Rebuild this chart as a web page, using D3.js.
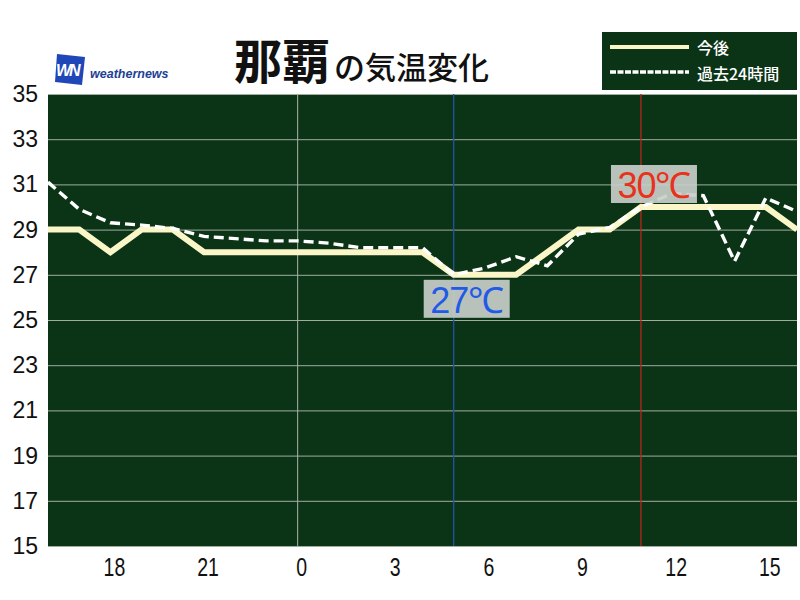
<!DOCTYPE html>
<html>
<head>
<meta charset="utf-8">
<script src="https://cdn.jsdelivr.net/npm/d3@7"></script>
<style>
  body { margin: 0; background: #fff; }
  svg { display: block; }
</style>
</head>
<body>
<div id="chart"></div>
<script>
// hours since 0:00 of the first day (16 = 16:00, 24 = 0:00, 40 = 16:00 next day)
const hours = [16, 17, 18, 19, 20, 21, 22, 23, 24, 25, 26, 27, 28, 29, 30, 31, 32, 33, 34, 35, 36, 37, 38, 39, 40];
const forecast = [29, 29, 28, 29, 29, 28, 28, 28, 28, 28, 28, 28, 28, 27, 27, 27, 28, 29, 29, 30, 30, 30, 30, 30, 29];
const past24 = [31.1, 29.9, 29.3, 29.2, 29.05, 28.7, 28.6, 28.5, 28.5, 28.4, 28.2, 28.2, 28.2, 27.0, 27.3, 27.8, 27.4, 28.8, 29.1, 30.0, 30.6, 30.5, 27.6, 30.4, 29.8];
const xTicks = [18, 21, 24, 27, 30, 33, 36, 39];
const yTicks = [15, 17, 19, 21, 23, 25, 27, 29, 31, 33, 35];
const minHour = 29, minTemp = 27;
const maxHour = 35, maxTemp = 30;

const width = 800, height = 600;
const margin = { top: 94, right: 3, bottom: 54, left: 48 };

const svg = d3.select('#chart')
  .append('svg')
  .attr('width', width)
  .attr('height', height);

const x = d3.scaleLinear().domain([16, 40]).range([margin.left, width - margin.right]);
const y = d3.scaleLinear().domain([15, 35]).range([height - margin.bottom, margin.top]);

// plot background
svg.append('rect')
  .attr('x', x(16)).attr('y', y(35))
  .attr('width', x(40) - x(16)).attr('height', y(15) - y(35))
  .attr('fill', '#0b3316');

// horizontal grid
svg.append('g')
  .attr('transform', 'translate(' + margin.left + ',0)')
  .call(d3.axisLeft(y).tickValues(yTicks).tickSize(-(x(40) - x(16))).tickFormat(''))
  .call(g => g.select('.domain').remove())
  .call(g => g.selectAll('line').attr('stroke', '#9fae9f').attr('stroke-width', 1));

// y labels
svg.append('g')
  .selectAll('text')
  .data(yTicks)
  .join('text')
  .attr('x', 38)
  .attr('y', d => y(d) + 8)
  .attr('text-anchor', 'end')
  .attr('font-family', 'Liberation Sans, Arial, sans-serif')
  .attr('font-size', 23)
  .attr('fill', '#111')
  .text(d => d);

// x labels (condensed look)
svg.append('g')
  .selectAll('text')
  .data(xTicks)
  .join('text')
  .attr('transform', d => 'translate(' + (x(d) + 4) + ',576) scale(0.78,1)')
  .attr('text-anchor', 'middle')
  .attr('font-family', 'Liberation Sans, Arial, sans-serif')
  .attr('font-size', 25)
  .attr('fill', '#111')
  .text(d => d % 24);

// vertical lines: midnight, min time, max time
svg.append('line')
  .attr('x1', x(24)).attr('x2', x(24)).attr('y1', y(35)).attr('y2', y(15))
  .attr('stroke', '#a9b5a9').attr('stroke-width', 1);
svg.append('line')
  .attr('x1', x(minHour)).attr('x2', x(minHour)).attr('y1', y(35)).attr('y2', y(15))
  .attr('stroke', '#1f55a8').attr('stroke-width', 1.3);
svg.append('line')
  .attr('x1', x(maxHour)).attr('x2', x(maxHour)).attr('y1', y(35)).attr('y2', y(15))
  .attr('stroke', '#b5281c').attr('stroke-width', 1.3);

const line = d3.line()
  .x((d, i) => x(hours[i]))
  .y(d => y(d));

svg.append('path')
  .datum(forecast)
  .attr('d', line)
  .attr('fill', 'none')
  .attr('stroke', '#fbf6c8')
  .attr('stroke-width', 6)
  .attr('stroke-linejoin', 'miter');

svg.append('path')
  .datum(past24)
  .attr('d', line)
  .attr('fill', 'none')
  .attr('stroke', '#ffffff')
  .attr('stroke-width', 3.4)
  .attr('stroke-dasharray', '10,5');

// min / max labels
function tempLabel(cx, top, txt, col) {
  svg.append('rect')
    .attr('x', cx - 43).attr('y', top)
    .attr('width', 86).attr('height', 38)
    .attr('fill', '#c9cec9').attr('fill-opacity', 0.92);
  svg.append('text')
    .attr('x', cx).attr('y', top + 33)
    .attr('text-anchor', 'middle')
    .attr('font-family', 'Liberation Sans, Arial, sans-serif')
    .attr('font-size', 36)
    .attr('letter-spacing', -1)
    .attr('fill', col)
    .text(txt);
}
tempLabel(x(maxHour) + 13, y(maxTemp) - 42, maxTemp + '℃', '#e8321c');
tempLabel(x(minHour) + 13, y(minTemp) + 5, minTemp + '℃', '#1f5be8');

// title
const title = svg.append('text')
  .attr('x', 234).attr('y', 79)
  .attr('font-family', 'Noto Sans CJK JP, sans-serif')
  .attr('fill', '#111');
title.append('tspan').attr('font-size', 48).attr('font-weight', 'bold').text('那覇');
title.append('tspan').attr('font-size', 31).attr('font-weight', 500).attr('dx', 4).text('の気温変化');

// logo
svg.append('path')
  .attr('d', 'M57,54 L85,57 L82,85 L55,82 Z')
  .attr('fill', '#1f47b8');
svg.append('text')
  .attr('x', 56).attr('y', 76)
  .attr('font-family', 'Liberation Sans, Arial, sans-serif')
  .attr('font-weight', 'bold')
  .attr('font-style', 'italic')
  .attr('font-size', 16)
  .attr('letter-spacing', -2)
  .attr('fill', '#fff')
  .text('WN');
svg.append('text')
  .attr('x', 90).attr('y', 78)
  .attr('font-family', 'Liberation Sans, Arial, sans-serif')
  .attr('font-weight', 'bold')
  .attr('font-style', 'italic')
  .attr('font-size', 12.5)
  .attr('fill', '#1e3f95')
  .text('weathernews');

// legend
const lg = svg.append('g');
lg.append('rect')
  .attr('x', 602).attr('y', 32).attr('width', 195).attr('height', 58)
  .attr('fill', '#0b3316');
lg.append('line')
  .attr('x1', 610).attr('x2', 689).attr('y1', 47).attr('y2', 47)
  .attr('stroke', '#fbf6c8').attr('stroke-width', 4);
lg.append('line')
  .attr('x1', 610).attr('x2', 689).attr('y1', 72).attr('y2', 72)
  .attr('stroke', '#fff').attr('stroke-width', 3.5).attr('stroke-dasharray', '6,1.5');
lg.append('text')
  .attr('x', 697).attr('y', 54)
  .attr('font-family', 'Noto Sans CJK JP, sans-serif')
  .attr('font-size', 16).attr('font-weight', 500).attr('fill', '#fff')
  .text('今後');
lg.append('text')
  .attr('x', 697).attr('y', 80)
  .attr('font-family', 'Noto Sans CJK JP, sans-serif')
  .attr('font-size', 16).attr('font-weight', 500).attr('fill', '#fff')
  .text('過去24時間');
</script>
</body>
</html>
